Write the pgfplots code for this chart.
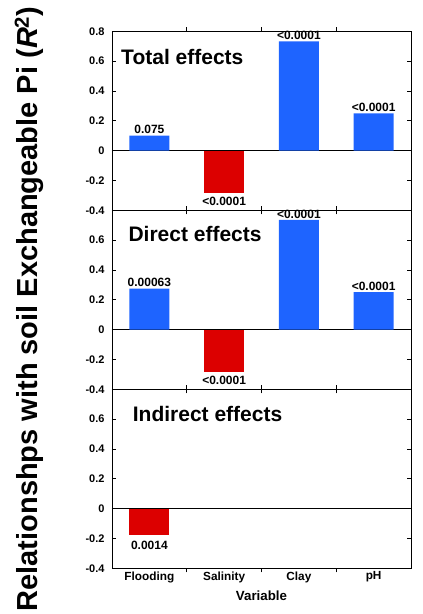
\documentclass[border=0pt]{standalone}
\usepackage{fontspec}
\setmainfont{Liberation Sans}
\usepackage{pgfplots}
\pgfplotsset{compat=1.18}

\definecolor{barblue}{RGB}{30,100,255}
\definecolor{barred}{RGB}{220,0,0}

\tikzset{paneltitle/.style={anchor=base west, font=\bfseries\fontsize{21}{21}\selectfont}}

\pgfplotsset{
  panel/.style={
    scale only axis, width=299pt, height=179pt,
    anchor=south west,
    xmin=-0.5, xmax=3.5, ymin=-0.4, ymax=0.8,
    xtick={0.5,1.5,2.5}, xticklabels={},
    ytick={-0.4,-0.2,0,0.2,0.4,0.6,0.8},
    tick align=inside, major tick length=4pt,
    tick style={black, line width=0.6pt},
    axis line style={line width=0.8pt},
    yticklabel style={font=\bfseries\fontsize{11}{11}\selectfont, xshift=-4pt},
    clip=false,
    ybar, bar width=40pt,
    point meta=explicit symbolic,
    nodes near coords,
    nodes near coords style={font=\bfseries\fontsize{12}{12}\selectfont, inner sep=1.5pt, text=black},
  },
  up labels/.style={nodes near coords style={anchor=south}},
  down labels/.style={nodes near coords style={anchor=north, yshift=-2pt}},
}

\begin{document}
\begin{tikzpicture}
% Total effects
\begin{axis}[panel, at={(112pt,403.7pt)},
  yticklabels={-0.4,-0.2,0,0.2,0.4,0.6,0.8}]
  \draw[line width=0.8pt] (axis cs:-0.5,0) -- (axis cs:3.5,0);
  \addplot[fill=barblue, draw=none, bar shift=0pt, up labels] coordinates {
    (0,0.10) [0.075]
    (2,0.733) [<0.0001]
    (3,0.25) [<0.0001]
  };
  \addplot[fill=barred, draw=none, bar shift=0pt, down labels] coordinates {
    (1,-0.285) [<0.0001]
  };
  \node[paneltitle] at (rel axis cs:0,1) [xshift=5.7pt, yshift=-33.7pt] {Total effects};
\end{axis}
% Direct effects
\begin{axis}[panel, at={(112pt,224.7pt)},
  yticklabels={-0.4,-0.2,0,0.2,0.4,0.6,{}}]
  \draw[line width=0.8pt] (axis cs:-0.5,0) -- (axis cs:3.5,0);
  \addplot[fill=barblue, draw=none, bar shift=0pt, up labels] coordinates {
    (0,0.275) [0.00063]
    (2,0.735) [<0.0001]
    (3,0.252) [<0.0001]
  };
  \addplot[fill=barred, draw=none, bar shift=0pt, down labels] coordinates {
    (1,-0.284) [<0.0001]
  };
  \node[paneltitle] at (rel axis cs:0,1) [xshift=13pt, yshift=-31pt] {Direct effects};
\end{axis}
% Indirect effects
\begin{axis}[panel, at={(112pt,45.7pt)},
  yticklabels={-0.4,-0.2,0,0.2,0.4,0.6,{}},
  extra x ticks={0,1,2,3},
  extra x tick labels={Flooding,Salinity,Clay,pH},
  extra x tick style={major tick length=0pt},
  xticklabel style={font=\bfseries\fontsize{11.8}{11.8}\selectfont},
  xlabel={Variable},
  xlabel style={font=\bfseries\fontsize{13.3}{13.3}\selectfont, yshift=3pt}]
  \draw[line width=0.8pt] (axis cs:-0.5,0) -- (axis cs:3.5,0);
  \addplot[fill=barred, draw=none, bar shift=0pt, nodes near coords style={anchor=north, yshift=-5pt}] coordinates {
    (0,-0.174) [0.0014]
  };
  \node[paneltitle] at (rel axis cs:0,1) [xshift=17.3pt, yshift=-32.7pt] {Indirect effects};
\end{axis}
\node[rotate=90, anchor=base, font=\bfseries\fontsize{29}{29}\selectfont]
  at (38pt,305pt) {Relationshps with soil Exchangeable Pi (\textit{R}\textsuperscript{2})};
\pgfresetboundingbox
\path[use as bounding box] (0,0) rectangle (423pt,614pt);
\end{tikzpicture}
\end{document}
